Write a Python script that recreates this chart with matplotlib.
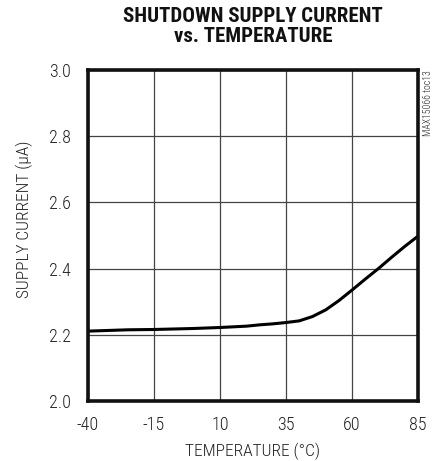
import matplotlib
matplotlib.use("Agg")
import matplotlib.pyplot as plt
from matplotlib import font_manager

# shutdown supply current vs temperature
temp_c = [-40, -25, -15, 0, 10, 20, 25, 30, 35, 40, 45, 50, 55, 60, 65, 70, 75, 80, 85]
current_ua = [2.211, 2.215, 2.216, 2.219, 2.222, 2.226, 2.230, 2.233, 2.237, 2.242,
              2.255, 2.275, 2.303, 2.335, 2.368, 2.400, 2.434, 2.467, 2.498]

x_ticks = [-40, -15, 10, 35, 60, 85]
y_ticks = [2.0, 2.2, 2.4, 2.6, 2.8, 3.0]

# pick a narrow face if one is around
names = {f.name for f in font_manager.fontManager.ttflist}
narrow = [n for n in ["Liberation Sans Narrow", "Roboto Condensed", "Open Sans Condensed"] if n in names]
plt.rcParams['font.family'] = narrow + ['DejaVu Sans']
plt.rcParams['font.stretch'] = 'condensed'
plt.rcParams['axes.unicode_minus'] = False

fig = plt.figure(figsize=(4.48, 4.61), dpi=100)
ax = fig.add_axes([0.1964, 0.1302, 0.7366, 0.718])

ax.plot(temp_c, current_ua, color="black", linewidth=2.2, solid_capstyle="butt")

ax.set_xlim(-40, 85)
ax.set_ylim(2.0, 3.0)
ax.set_xticks(x_ticks)
ax.set_yticks(y_ticks)
ax.set_yticklabels([f"{v:.1f}" for v in y_ticks])
ax.grid(True, color="#444444", linewidth=0.9)
ax.tick_params(length=0, labelsize=13, colors="#222222")
ax.tick_params(axis="x", pad=11)
ax.tick_params(axis="y", pad=12)
for lbl in ax.get_xticklabels() + ax.get_yticklabels():
    lbl.set_fontweight("light")

for s in ax.spines.values():
    s.set_linewidth(2.6)
    s.set_color("#111111")

ax.set_xlabel("TEMPERATURE (°C)", fontsize=12.5, fontweight="light", color="#222222", labelpad=6)
ax.set_ylabel("SUPPLY CURRENT (µA)", fontsize=12.5, fontweight="light", color="#222222")
ax.yaxis.set_label_coords(-0.167, 0.55)

fig.text(0.565, 0.985, "SHUTDOWN SUPPLY CURRENT\nvs. TEMPERATURE", ha="center", va="top",
         fontsize=15, fontweight="heavy", linespacing=1.05, color="#111111")
fig.text(0.955, 0.848, "MAX15066 toc13", rotation=90, ha="center", va="top",
         fontsize=7, fontweight="light", color="#222222")

fig.savefig("out.png", dpi=100)
